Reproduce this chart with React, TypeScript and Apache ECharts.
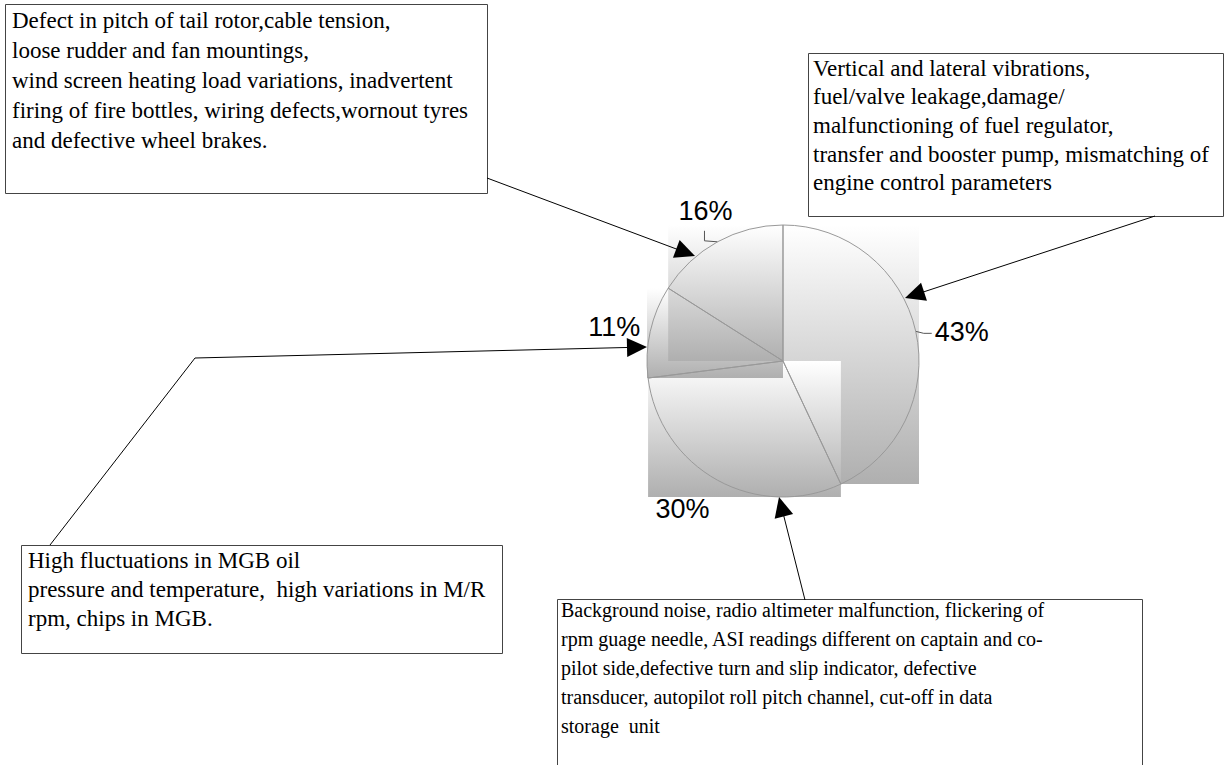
import React, { useEffect, useRef } from 'react';
import * as echarts from 'echarts';

const sliceLabels = ['43%', '30%', '11%', '16%'];
const sliceValues = [43, 30, 11, 16];

const noteTopLeft = [
  'Defect in pitch of tail rotor,cable tension,',
  'loose rudder and fan mountings,',
  'wind screen heating load variations, inadvertent',
  'firing of fire bottles, wiring defects,wornout tyres',
  'and defective wheel brakes.',
];
const noteTopRight = [
  'Vertical and lateral vibrations,',
  'fuel/valve leakage,damage/',
  'malfunctioning of fuel regulator,',
  'transfer and booster pump, mismatching of',
  'engine control parameters',
];
const noteBottomLeft = [
  'High fluctuations in MGB oil',
  'pressure and temperature,  high variations in M/R',
  'rpm, chips in MGB.',
];
const noteBottomRight = [
  'Background noise, radio altimeter malfunction, flickering of',
  'rpm guage needle, ASI readings different on captain and co-',
  'pilot side,defective turn and slip indicator, defective',
  'transducer, autopilot roll pitch channel, cut-off in data',
  'storage  unit',
];

// layout (not data): label nudges per slice, in px
const labelNudge: [number, number][] = [
  [0, 2],
  [9, 25],
  [9, -3],
  [32, -27],
];

const CX = 783;
const CY = 361;
const R = 136;

function pointAt(a: number): [number, number] {
  return [CX + R * Math.sin(a), CY - R * Math.cos(a)];
}

function sectorBox(i: number) {
  const total = sliceValues.reduce((s, v) => s + v, 0);
  let start = 0;
  for (let j = 0; j < i; j++) start += sliceValues[j];
  const a0 = (start / total) * Math.PI * 2;
  const a1 = ((start + sliceValues[i]) / total) * Math.PI * 2;
  const pts: [number, number][] = [[CX, CY], pointAt(a0), pointAt(a1)];
  for (let k = 0; k <= 4; k++) {
    const a = (k * Math.PI) / 2;
    if (a > a0 && a < a1) pts.push(pointAt(a));
  }
  const xs = pts.map((p) => p[0]);
  const ys = pts.map((p) => p[1]);
  const x0 = Math.min(...xs);
  const y0 = Math.min(...ys);
  return { x: x0, y: y0, width: Math.max(...xs) - x0, height: Math.max(...ys) - y0 };
}

function arrowHead(from: [number, number], tip: [number, number], len = 20, hw = 9.5) {
  const dx = tip[0] - from[0];
  const dy = tip[1] - from[1];
  const d = Math.hypot(dx, dy);
  const ux = dx / d;
  const uy = dy / d;
  const bx = tip[0] - ux * len;
  const by = tip[1] - uy * len;
  return {
    type: 'polygon',
    shape: { points: [tip, [bx - uy * hw, by + ux * hw], [bx + uy * hw, by - ux * hw]] },
    style: { fill: '#000' },
    z: 20,
  };
}

function arrowLine(points: [number, number][]) {
  const n = points.length;
  const tail = points[n - 2];
  const tip = points[n - 1];
  const d = Math.hypot(tip[0] - tail[0], tip[1] - tail[1]);
  const shortened = points.slice();
  shortened[n - 1] = [tip[0] - ((tip[0] - tail[0]) / d) * 15, tip[1] - ((tip[1] - tail[1]) / d) * 15];
  return [
    {
      type: 'polyline',
      shape: { points: shortened },
      style: { stroke: '#000', lineWidth: 1, fill: 'none' },
      z: 20,
    },
    arrowHead(tail, tip),
  ];
}

function noteBox(
  x: number,
  y: number,
  w: number,
  h: number,
  lines: string[],
  tx: number,
  ty: number,
  lh: number,
  fs: number
) {
  return [
    {
      type: 'rect',
      shape: { x: x + 0.5, y: y + 0.5, width: w, height: h },
      style: { fill: '#fff', stroke: '#444', lineWidth: 1 },
      z: 15,
    },
    {
      type: 'text',
      x: tx,
      y: ty,
      style: {
        text: lines.join('\n'),
        font: fs + 'px "Liberation Serif", "Times New Roman", serif',
        fill: '#000',
        lineHeight: lh,
        align: 'left',
        verticalAlign: 'top',
      },
      z: 16,
    },
  ];
}

export default function App() {
  const ref = useRef<HTMLDivElement>(null);
  useEffect(() => {
    if (!ref.current) return;
    const chart = echarts.init(ref.current, undefined, { renderer: 'svg' });
    const graphics: any[] = [
      ...noteBox(5, 4, 482, 189, noteTopLeft, 12, 5, 30, 23),
      ...noteBox(808, 53, 415, 163, noteTopRight, 813, 54, 28.6, 23),
      ...noteBox(21, 545, 481, 108, noteBottomLeft, 28, 545.5, 29, 23),
      ...noteBox(557, 599, 585, 170, noteBottomRight, 561, 595.5, 29, 20),
      ...arrowLine([[487, 178], [695, 256]]),
      ...arrowLine([[1155, 216], [905, 298]]),
      ...arrowLine([[50, 545], [195, 358], [647, 347]]),
      ...arrowLine([[805, 600], [779, 497]]),
    ];
    chart.setOption({
      animation: false,
      backgroundColor: '#fff',
      graphic: { elements: graphics },
      series: [
        {
          type: 'custom',
          coordinateSystem: 'none',
          silent: true,
          z: 1,
          data: sliceValues.map((v) => [v]),
          renderItem: (params: any) => {
            const b = sectorBox(params.dataIndex);
            return {
              type: 'rect',
              shape: b,
              style: {
                fill: {
                  type: 'linear',
                  x: 0,
                  y: 0,
                  x2: 0,
                  y2: 1,
                  colorStops: [
                    { offset: 0, color: '#ffffff' },
                    { offset: 1, color: '#afafaf' },
                  ],
                },
              },
            };
          },
        },
        {
          type: 'pie',
          z: 3,
          silent: true,
          center: [CX, CY],
          radius: R,
          startAngle: 90,
          clockwise: true,
          avoidLabelOverlap: false,
          itemStyle: { color: 'rgba(0,0,0,0)', borderColor: '#999', borderWidth: 1 },
          emphasis: { disabled: true },
          label: {
            show: true,
            position: 'outside',
            formatter: (p: any) => sliceLabels[p.dataIndex],
            color: '#000',
            fontSize: 27,
            fontFamily: '"Liberation Sans", Arial, sans-serif',
            distanceToLabelLine: 3,
          },
          labelLine: { show: true, length: 4, length2: 12, lineStyle: { color: '#555', width: 1 } },
          labelLayout: (p: any) => {
            const n = labelNudge[p.dataIndex];
            const out: any = { dx: n[0], dy: n[1] };
            if (p.dataIndex === 0 && p.labelLinePoints) {
              const e = p.labelLinePoints[0];
              out.labelLinePoints = [e, [e[0] + 8, e[1] + 2], [e[0] + 16, e[1] + 2]];
            }
            if (p.dataIndex === 3 && p.labelLinePoints) {
              const e = p.labelLinePoints[0];
              out.labelLinePoints = [e, [e[0] - 13, e[1] - 1], [e[0] - 13, e[1] - 11]];
            }
            return out;
          },
          data: sliceValues.map((v, i) => ({
            value: v,
            name: sliceLabels[i],
            labelLine: { show: i === 0 || i === 3 },
          })),
        },
      ],
    });
    return () => chart.dispose();
  }, []);
  return <div ref={ref} style={{ position: 'fixed', left: 0, top: 0, width: 1225, height: 765 }} />;
}
